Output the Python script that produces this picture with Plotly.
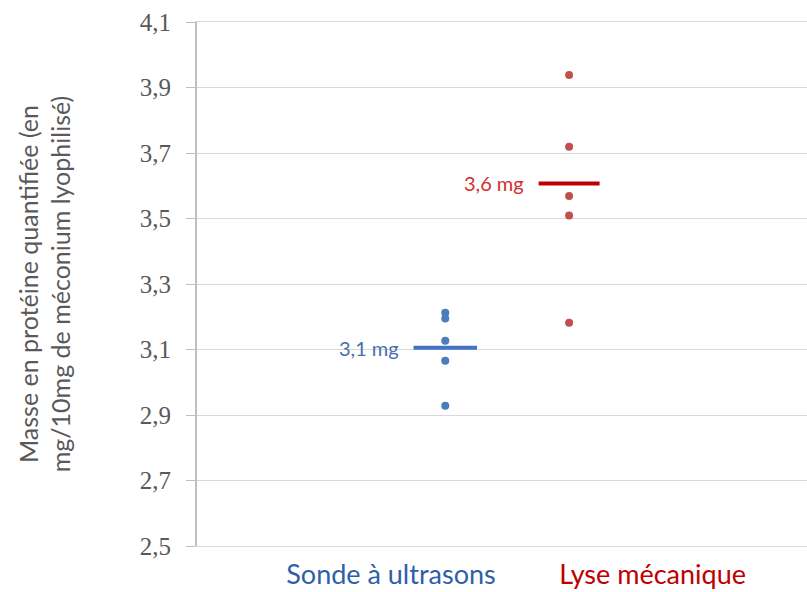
import plotly.graph_objects as go

categories = ["Sonde à ultrasons", "Lyse mécanique"]
sonde_values = [3.212, 3.195, 3.127, 3.066, 2.928]
lyse_values = [3.938, 3.719, 3.569, 3.509, 3.182]
means = [3.105, 3.607]
mean_labels = ["3,1 mg", "3,6 mg"]
y_ticks = [2.5, 2.7, 2.9, 3.1, 3.3, 3.5, 3.7, 3.9, 4.1]

# layout constants (x in an arbitrary 0..10 scale across the plot)
point_x = [4.07, 6.10]
label_x = [3.18, 7.47]
half_w = [0.52, 0.50]
point_colors = ["#4a7ebb", "#c0504d"]
mean_colors = ["#4472c4", "#c00000"]
text_colors = ["#4a6fb0", "#d03030"]
cat_colors = ["#2f5fa8", "#c00000"]

fig = go.Figure()
for i, vals in enumerate([sonde_values, lyse_values]):
    fig.add_trace(go.Scatter(
        x=[point_x[i]] * len(vals), y=vals, mode="markers",
        marker=dict(size=8, color=point_colors[i]), showlegend=False, hoverinfo="y"))
    fig.add_trace(go.Scatter(
        x=[point_x[i] - half_w[i], point_x[i] + half_w[i]], y=[means[i], means[i]],
        mode="lines", line=dict(color=mean_colors[i], width=4), showlegend=False))
    fig.add_annotation(x=point_x[i] - half_w[i] - 0.2, y=means[i], text=mean_labels[i],
                       showarrow=False, xanchor="right", yanchor="middle",
                       font=dict(family="Lato", size=20, color=text_colors[i]))

ticktext = [f'<span style="color:{c}">{t}</span>' for t, c in zip(categories, cat_colors)]

fig.update_layout(
    width=807, height=592,
    margin=dict(l=197, r=0, t=22, b=46),
    paper_bgcolor="white", plot_bgcolor="white",
    separators=", ",
    xaxis=dict(range=[0, 10], tickvals=label_x, ticktext=ticktext, showgrid=False,
               zeroline=False, showline=True, mirror=True, linecolor="#d9d9d9", linewidth=1,
               ticks="", tickfont=dict(family="Lato", size=27), ticklabelstandoff=5,
               automargin=False),
    yaxis=dict(range=[2.5, 4.1], tickvals=y_ticks, tickformat=".1f",
               showgrid=True, gridcolor="#d9d9d9", gridwidth=1, zeroline=False,
               showline=True, linecolor="#bfbfbf", linewidth=2,
               ticks="outside", ticklen=9, tickcolor="#bfbfbf", tickwidth=1,
               ticklabelstandoff=10, automargin=False,
               tickfont=dict(family="Liberation Serif", size=25, color="#595959"),
               title=dict(text="Masse en protéine quantifiée (en<br>mg/10mg de méconium lyophilisé)",
                          font=dict(family="Lato", size=25, color="#595959"), standoff=62)),
)

fig.write_html("out.html", config={"displayModeBar": False},
               post_script="document.body.style.margin='0';document.body.style.overflow='hidden';")
